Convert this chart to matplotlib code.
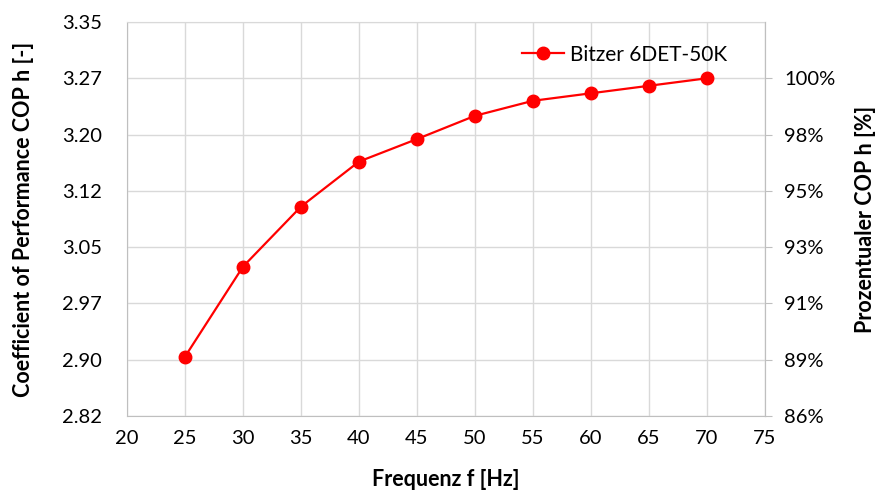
import matplotlib.pyplot as plt

freq = [25, 30, 35, 40, 45, 50, 55, 60, 65, 70]
cop = [2.904, 3.024, 3.104, 3.164, 3.194, 3.225, 3.245, 3.255, 3.265, 3.275]

cop_ticks = [2.825, 2.9, 2.975, 3.05, 3.125, 3.2, 3.275, 3.35]
cop_labels = ["2.82", "2.90", "2.97", "3.05", "3.12", "3.20", "3.27", "3.35"]
x_ticks = [20, 25, 30, 35, 40, 45, 50, 55, 60, 65, 70, 75]
pct_labels = ["86%", "89%", "91%", "93%", "95%", "98%", "100%"]

plt.rcParams['font.family'] = ['Lato', 'DejaVu Sans']

fig = plt.figure(figsize=(8.77, 4.95), dpi=100)
ax = fig.add_axes([0.1448, 0.1596, 0.7275, 0.796])

ax.plot(freq, cop, color="#ff0000", lw=1.6, marker="o", markersize=9,
        label="Bitzer 6DET-50K", zorder=3)

ax.set_xlim(20, 75)
ax.set_ylim(cop_ticks[0], cop_ticks[-1])
ax.set_xticks(x_ticks)
ax.set_yticks(cop_ticks)
ax.set_yticklabels(cop_labels)
ax.grid(True, color="#d9d9d9", lw=1)
ax.set_axisbelow(True)
for s in ax.spines.values():
    s.set_color("#d9d9d9")
ax.spines["left"].set_color("#bfbfbf")
ax.spines["bottom"].set_color("#bfbfbf")
ax.tick_params(axis="y", length=0, labelsize=14.5, pad=18)
ax.tick_params(axis="x", length=0, labelsize=14.5, pad=10)

ax.set_xlabel("Frequenz f [Hz]", fontsize=15.5, fontweight="bold", labelpad=16)
ax.set_ylabel("Coefficient of Performance COP h [-]", fontsize=15.5, fontweight="bold", labelpad=20)

# right axis: percent of the value at 70 Hz
ref = cop[-1]
ax2 = ax.twinx()
ax2.set_ylim(cop_ticks[0] / ref, cop_ticks[-1] / ref)
ax2.set_yticks([t / ref for t in cop_ticks[:-1]])
ax2.set_yticklabels(pct_labels)
ax2.tick_params(axis="y", length=5, color="#bfbfbf", labelsize=14.5, pad=9)
for s in ax2.spines.values():
    s.set_visible(False)
ax2.spines["right"].set_visible(True)
ax2.spines["right"].set_color("#bfbfbf")
ax2.set_ylabel("Prozentualer COP h [%]", fontsize=15.5, fontweight="bold", labelpad=14)

leg = ax.legend(loc="upper right", bbox_to_anchor=(0.97, 0.99), frameon=False,
                fontsize=15, handlelength=2.0, handletextpad=0.3)

fig.savefig("out.png", dpi=100)
